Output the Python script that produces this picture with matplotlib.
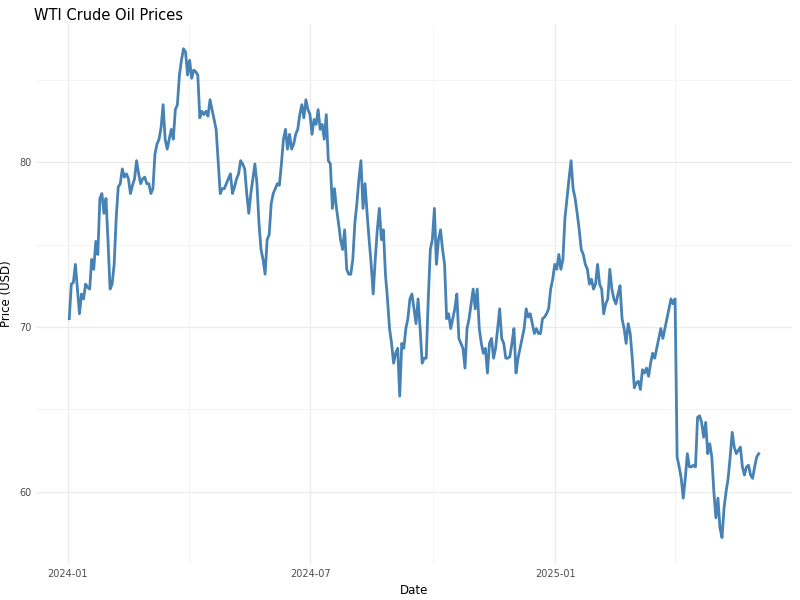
import matplotlib.pyplot as plt
import matplotlib.dates as mdates
import pandas as pd

# WTI prices (roughly every 1.5 days)
prices = [
    70.5, 72.6, 72.7, 73.8, 72.3, 70.8, 72.0, 71.7, 72.6, 72.4, 72.3, 74.1, 73.5, 75.2, 74.4,
    77.8, 78.1, 76.9, 77.8, 75.2, 72.3, 72.6, 73.8, 76.6, 78.5, 78.7, 79.6, 79.1, 79.3, 79.0,
    78.1, 78.6, 79.0, 80.1, 79.3, 78.7, 79.0, 79.1, 78.7, 78.7, 78.1, 78.4, 80.5, 81.1, 81.4,
    82.1, 83.5, 81.4, 80.8, 81.4, 82.0, 81.4, 83.2, 83.5, 85.3, 86.2, 86.9, 86.7, 85.3, 86.2,
    85.1, 85.6, 85.5, 85.3, 82.7, 83.1, 82.9, 83.1, 82.8, 83.8, 83.2, 82.6, 82.0, 80.1, 78.1,
    78.4, 78.4, 78.7, 79.0, 79.3, 78.1, 78.5, 79.0, 79.3, 80.1, 79.9, 79.6, 78.1, 76.9, 78.1,
    79.0, 79.9, 78.7, 76.3, 74.7, 74.1, 73.2, 75.3, 75.6, 77.5, 78.1, 78.4, 78.7, 78.6, 79.9,
    81.4, 82.0, 80.8, 81.7, 80.8, 81.1, 81.7, 82.0, 82.9, 83.5, 82.7, 83.8, 83.2, 82.9, 81.7,
    82.6, 82.3, 83.2, 82.0, 82.3, 81.4, 82.9, 80.1, 79.9, 77.2, 78.4, 77.2, 76.3, 75.3, 74.7,
    75.9, 73.5, 73.2, 73.2, 74.1, 76.3, 77.5, 79.0, 80.1, 77.2, 78.7, 76.9, 75.3, 73.8, 72.0,
    74.1, 75.9, 77.2, 75.3, 75.9, 73.2, 71.7, 69.9, 69.0, 67.8, 68.4, 68.7, 65.8, 69.0, 68.7,
    69.9, 70.5, 71.7, 72.0, 71.1, 70.2, 71.7, 69.9, 67.8, 68.1, 68.1, 71.7, 74.7, 75.3, 77.2,
    73.8, 75.3, 75.9, 74.7, 73.8, 70.5, 70.8, 69.9, 70.5, 71.1, 72.0, 69.3, 69.0, 68.7, 67.5,
    69.9, 70.5, 71.4, 72.3, 71.1, 72.3, 69.9, 69.0, 68.4, 68.7, 67.2, 69.0, 69.3, 68.1, 68.7,
    69.9, 71.1, 69.3, 69.0, 68.1, 68.1, 68.2, 69.0, 69.9, 67.2, 68.1, 68.7, 69.3, 69.9, 71.1,
    70.6, 70.8, 70.2, 69.6, 69.9, 69.6, 69.6, 70.5, 70.6, 70.8, 71.1, 72.3, 72.9, 73.8, 73.5,
    74.4, 73.5, 74.1, 76.6, 77.8, 79.0, 80.1, 78.4, 77.8, 76.9, 75.9, 74.7, 74.4, 73.8, 73.5,
    72.6, 72.9, 72.3, 72.6, 73.8, 72.6, 72.3, 70.8, 71.4, 71.7, 73.5, 72.3, 71.7, 71.4, 72.0,
    72.5, 70.5, 69.9, 69.0, 70.2, 69.6, 68.1, 66.3, 66.6, 66.7, 66.2, 67.4, 67.2, 67.5, 67.0,
    67.8, 68.4, 68.1, 68.7, 69.3, 69.9, 69.3, 69.9, 70.5, 71.1, 71.7, 71.4, 71.7, 62.1, 61.5,
    60.8, 59.6, 60.8, 62.3, 61.5, 61.5, 61.6, 61.5, 64.5, 64.6, 64.2, 63.3, 64.2, 62.3, 62.9,
    62.1, 60.0, 58.4, 59.6, 57.8, 57.2, 59.0, 60.0, 60.8, 62.1, 63.6, 62.7, 62.3, 62.5, 62.7,
    61.5, 61.0, 61.5, 61.6, 61.0, 60.8, 61.5, 62.1, 62.3,
]
dates = pd.date_range("2024-01-02", "2025-06-03", periods=len(prices))

fig = plt.figure(figsize=(8, 6), dpi=100)
ax = fig.add_axes([0.045, 0.06, 0.945, 0.9])
ax.plot(dates, prices, color="steelblue", linewidth=2)

ax.set_ylim(55.6, 88.4)
ax.set_yticks([60, 70, 80])
ax.set_yticks([65, 75, 85], minor=True)
ax.set_xlim(pd.Timestamp("2023-12-08"), pd.Timestamp("2025-06-28"))
ax.xaxis.set_major_locator(mdates.MonthLocator(bymonth=[1, 7]))
ax.xaxis.set_minor_locator(mdates.MonthLocator(bymonth=[4, 10]))
ax.xaxis.set_major_formatter(mdates.DateFormatter("%Y-%m"))

ax.grid(which="major", color="#ebebeb", linewidth=0.9)
ax.grid(which="minor", color="#f3f3f3", linewidth=0.6)
ax.set_axisbelow(True)
for s in ax.spines.values():
    s.set_visible(False)
ax.tick_params(which="both", length=0, labelsize=7, labelcolor="#4d4d4d")

ax.set_xlabel("Date", fontsize=8.5)
ax.set_ylabel("Price (USD)", fontsize=8.5)
fig.text(0.043, 0.975, "WTI Crude Oil Prices", fontsize=10.5, va="center")

fig.savefig("out.png", dpi=100)
